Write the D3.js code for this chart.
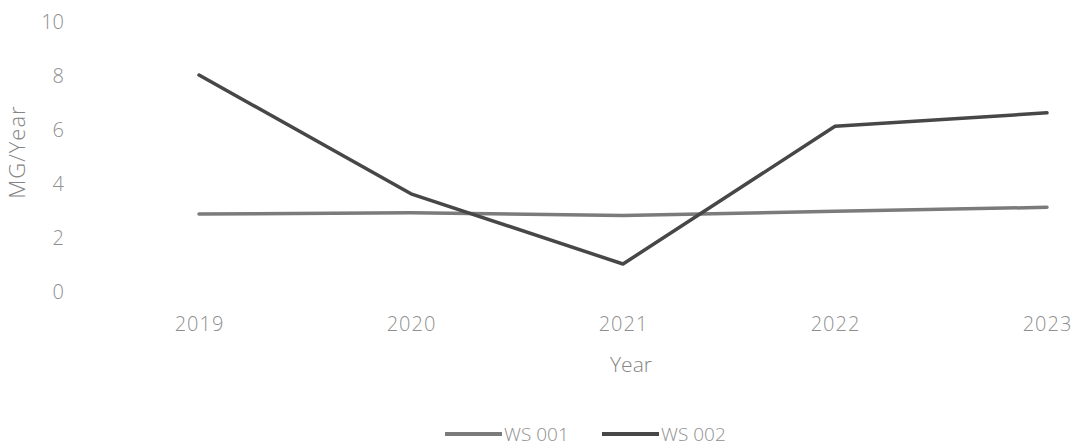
<!DOCTYPE html>
<html>
<head>
<meta charset="utf-8">
<script src="https://cdn.jsdelivr.net/npm/d3@7"></script>
<style>
  html, body { margin: 0; padding: 0; background: #fff; }
  svg { display: block; font-family: "Open Sans", "DejaVu Sans", sans-serif; font-weight: 300; }
</style>
</head>
<body>
<svg id="chart" width="1091" height="447"></svg>
<script>
// Annual values, MG/Year
const years = ["2019", "2020", "2021", "2022", "2023"];
const ws001 = [2.85, 2.9, 2.8, 2.95, 3.1];
const ws002 = [8.0, 3.6, 1.0, 6.1, 6.6];
const yTicks = [0, 2, 4, 6, 8, 10];
const seriesNames = ["WS 001", "WS 002"];
const seriesColors = ["#7b7b7b", "#474747"];

const svg = d3.select("#chart");
const fontStack = "'Open Sans', 'DejaVu Sans', sans-serif";

const x = d3.scalePoint().domain(years).range([199, 1047]);
const y = d3.scaleLinear().domain([0, 10]).range([291, 21]);

const labelColor = "#8f8f8f";

// y tick labels (no axis line)
const yAxis = d3.axisLeft(y).tickValues(yTicks).tickSize(0).tickPadding(0);
const gy = svg.append("g").attr("transform", "translate(64,0)").call(yAxis)
  .attr("font-family", fontStack).attr("font-size", null);
gy.select(".domain").remove();
gy.selectAll("text")
  .attr("fill", labelColor)
  .style("font-size", "20px")
  .attr("dy", "0.35em");

// x tick labels
const xAxis = d3.axisBottom(x).tickSize(0).tickPadding(0);
const gx = svg.append("g").attr("transform", "translate(0,324)").call(xAxis)
  .attr("font-family", fontStack).attr("font-size", null);
gx.select(".domain").remove();
gx.selectAll("text")
  .attr("fill", labelColor)
  .style("font-size", "20px")
  .style("letter-spacing", "1px")
  .attr("dy", "0.35em");

// axis titles
svg.append("text")
  .attr("x", 631).attr("y", 365)
  .attr("text-anchor", "middle").attr("dy", "0.35em")
  .attr("fill", "#858585").style("font-size", "21px")
  .text("Year");

svg.append("text")
  .attr("transform", "translate(17,152) rotate(-90)")
  .attr("text-anchor", "middle").attr("dy", "0.35em")
  .attr("fill", "#858585").style("font-size", "22px")
  .style("letter-spacing", "1px")
  .text("MG/Year");

// series lines
const line = d3.line().x((d, i) => x(years[i])).y(d => y(d));
[ws001, ws002].forEach((vals, k) => {
  svg.append("path")
    .datum(vals)
    .attr("fill", "none")
    .attr("stroke", seriesColors[k])
    .attr("stroke-width", 3.5)
    .attr("stroke-linejoin", "round")
    .attr("stroke-linecap", "round")
    .attr("d", line);
});

// legend
const legendItems = [
  { name: seriesNames[0], color: seriesColors[0], x0: 445 },
  { name: seriesNames[1], color: seriesColors[1], x0: 602 }
];
legendItems.forEach(it => {
  svg.append("line")
    .attr("x1", it.x0).attr("x2", it.x0 + 57)
    .attr("y1", 434).attr("y2", 434)
    .attr("stroke", it.color).attr("stroke-width", 4);
  svg.append("text")
    .attr("x", it.x0 + 59).attr("y", 434)
    .attr("dy", "0.35em")
    .attr("fill", labelColor).style("font-size", "19px")
    .text(it.name);
});
</script>
</body>
</html>
